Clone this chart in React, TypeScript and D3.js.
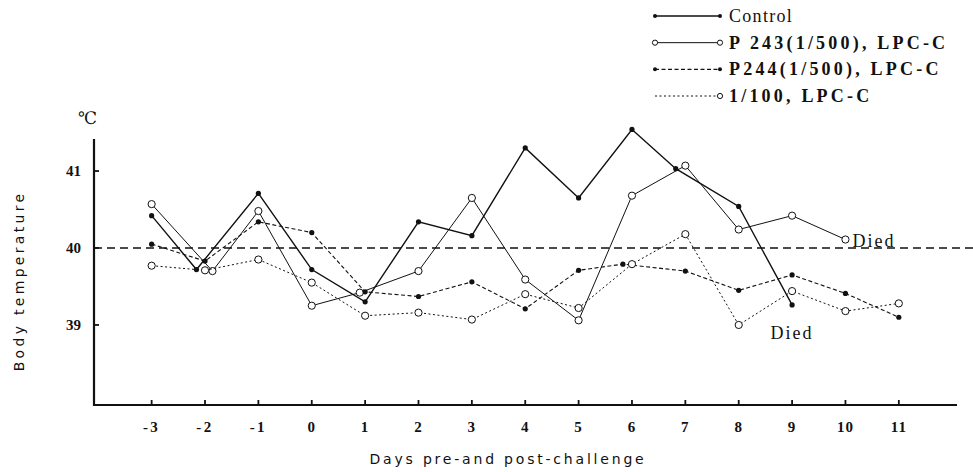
import React from "react";
import * as d3 from "d3";

const W = 973;
const H = 472;

// Days (x) and body temperature values
const controlDays = [-3, -2.16, -1, 0, 1, 2, 3, 4, 5, 6, 6.82, 8, 9];
const controlVals = [40.42, 39.72, 40.71, 39.72, 39.3, 40.34, 40.16, 41.3, 40.65, 41.54, 41.03, 40.54, 39.26];

const p243Days = [-3, -1.86, -1, 0, 0.9, 2, 3, 4, 5, 6, 7, 8, 9, 10];
const p243Vals = [40.57, 39.7, 40.48, 39.25, 39.42, 39.7, 40.65, 39.59, 39.06, 40.68, 41.07, 40.24, 40.42, 40.11];

const p244Days = [-3, -2, -1, 0, 1, 2, 3, 4, 5, 5.83, 7, 8, 9, 10, 11];
const p244Vals = [40.05, 39.83, 40.34, 40.2, 39.43, 39.37, 39.56, 39.21, 39.71, 39.79, 39.7, 39.45, 39.65, 39.41, 39.1];

const d100Days = [-3, -2, -1, 0, 1, 2, 3, 4, 5, 6, 7, 8, 9, 10, 11];
const d100Vals = [39.77, 39.71, 39.85, 39.55, 39.12, 39.16, 39.07, 39.4, 39.22, 39.79, 40.18, 39.0, 39.44, 39.18, 39.28];

const xTicks = [-3, -2, -1, 0, 1, 2, 3, 4, 5, 6, 7, 8, 9, 10, 11];
const xTickLabels = ["-3", "-2", "-1", "0", "1", "2", "3", "4", "5", "6", "7", "8", "9", "10", "11"];
const yTicks = [39, 40, 41];
const refValue = 40;

const legendLabels = ["Control", "P 243(1/500), LPC-C", "P244(1/500), LPC-C", "1/100, LPC-C"];

type Series = {
  days: number[];
  vals: number[];
  dash: string;
  width: number;
  open: boolean;
  label: string;
};

const series: Series[] = [
  { days: controlDays, vals: controlVals, dash: "", width: 1.4, open: false, label: legendLabels[0] },
  { days: p243Days, vals: p243Vals, dash: "", width: 1.0, open: true, label: legendLabels[1] },
  { days: p244Days, vals: p244Vals, dash: "4,2.5", width: 1.1, open: false, label: legendLabels[2] },
  { days: d100Days, vals: d100Vals, dash: "2,2.5", width: 1.0, open: true, label: legendLabels[3] },
];

const serif = "'Liberation Serif', 'DejaVu Serif', serif";
const sans = "'DejaVu Sans', 'Noto Sans', sans-serif";

export default function App() {
  const x = d3.scaleLinear().domain([-4.08, 12.09]).range([94, 957]);
  const y = d3.scaleLinear().domain([37.96, 41.416]).range([405, 139]);
  const ink = "#111";

  const line = d3
    .line<[number, number]>()
    .x((d) => x(d[0]))
    .y((d) => y(d[1]));

  const legendY = d3.scaleLinear().domain([0, 3]).range([16, 96]);

  return (
    <svg
      width={W}
      height={H}
      style={{ position: "absolute", left: 0, top: 0, background: "#fff" }}
      xmlns="http://www.w3.org/2000/svg"
    >
      <rect x={0} y={0} width={W} height={H} fill="#fff" />

      {/* reference dashed line at 40 */}
      <line
        x1={x.range()[0]}
        x2={W}
        y1={y(refValue)}
        y2={y(refValue)}
        stroke={ink}
        strokeWidth={1.7}
        strokeDasharray="8,5"
      />

      {/* axes */}
      <line x1={x.range()[0]} x2={x.range()[0]} y1={y.range()[1]} y2={y.range()[0] + 1} stroke={ink} strokeWidth={2.2} />
      <line x1={x.range()[0] - 1} x2={x.range()[1]} y1={y.range()[0]} y2={y.range()[0]} stroke={ink} strokeWidth={2.2} />

      {yTicks.map((t) => (
        <g key={"yt" + t}>
          <line x1={x.range()[0]} x2={x.range()[0] + 5} y1={y(t)} y2={y(t)} stroke={ink} strokeWidth={1.8} />
          <text
            x={81}
            y={y(t) + 5}
            textAnchor="end"
            fontFamily={serif}
            fontWeight="bold"
            fontSize={15}
            fill={ink}
          >
            {t}
          </text>
        </g>
      ))}

      {xTicks.map((t, i) => (
        <g key={"xt" + t}>
          <line x1={x(t)} x2={x(t)} y1={y.range()[0]} y2={y.range()[0] - 5} stroke={ink} strokeWidth={1.8} />
          <text
            x={x(t)}
            y={432}
            textAnchor="middle"
            fontFamily={serif}
            fontWeight="bold"
            fontSize={15}
            fill={ink}
            letterSpacing={t < 0 ? 2.5 : 1}
          >
            {xTickLabels[i]}
          </text>
        </g>
      ))}

      {/* unit */}
      <text x={78} y={124} fontFamily={serif} fontSize={17} fill={ink}>
        ℃
      </text>

      {/* axis titles */}
      <text
        transform={`translate(24,${281}) rotate(-90)`}
        textAnchor="middle"
        fontFamily={sans}
        fontSize={14}
        letterSpacing={3.3}
        fill={ink}
      >
        Body temperature
      </text>
      <text
        x={508}
        y={464}
        textAnchor="middle"
        fontFamily={sans}
        fontSize={14}
        letterSpacing={2.8}
        fill={ink}
      >
        Days pre-and post-challenge
      </text>

      {/* series lines */}
      {series.map((s, si) => {
        const pts: [number, number][] = s.days.map((d, i) => [d, s.vals[i]]);
        return (
          <g key={"s" + si}>
            <path
              d={line(pts) || ""}
              fill="none"
              stroke={ink}
              strokeWidth={s.width}
              strokeDasharray={s.dash || undefined}
            />
            {pts.map((p, i) =>
              s.open ? (
                <circle key={i} cx={x(p[0])} cy={y(p[1])} r={3.6} fill="#fff" stroke={ink} strokeWidth={1} />
              ) : (
                <circle key={i} cx={x(p[0])} cy={y(p[1])} r={2.6} fill={ink} />
              )
            )}
          </g>
        );
      })}

      {/* Died labels */}
      <text
        x={x(p243Days[p243Days.length - 1]) + 7}
        y={y(p243Vals[p243Vals.length - 1]) + 7}
        fontFamily={serif}
        fontSize={18}
        letterSpacing={2}
        fill={ink}
      >
        Died
      </text>
      <text
        x={x(controlDays[controlDays.length - 1])}
        y={y(controlVals[controlVals.length - 1]) + 34}
        textAnchor="middle"
        fontFamily={serif}
        fontSize={18}
        letterSpacing={2}
        fill={ink}
      >
        Died
      </text>

      {/* legend */}
      {series.map((s, i) => {
        const ly = legendY(i);
        return (
          <g key={"lg" + i}>
            <line
              x1={655}
              x2={720}
              y1={ly}
              y2={ly}
              stroke={ink}
              strokeWidth={s.width}
              strokeDasharray={s.dash || undefined}
            />
            {s.open ? (
              <>
                {i === 1 && <circle cx={655} cy={ly} r={2.6} fill="#fff" stroke={ink} strokeWidth={1} />}
                <circle cx={720} cy={ly} r={2.6} fill="#fff" stroke={ink} strokeWidth={1} />
              </>
            ) : (
              <>
                <circle cx={655} cy={ly} r={2} fill={ink} />
                <circle cx={720} cy={ly} r={2} fill={ink} />
              </>
            )}
            <text
              x={729}
              y={ly + 6}
              fontFamily={serif}
              fontWeight={i === 0 ? "normal" : "bold"}
              fontSize={18}
              letterSpacing={i === 0 ? 1.3 : 3.2}
              fill={ink}
            >
              {s.label}
            </text>
          </g>
        );
      })}
    </svg>
  );
}
